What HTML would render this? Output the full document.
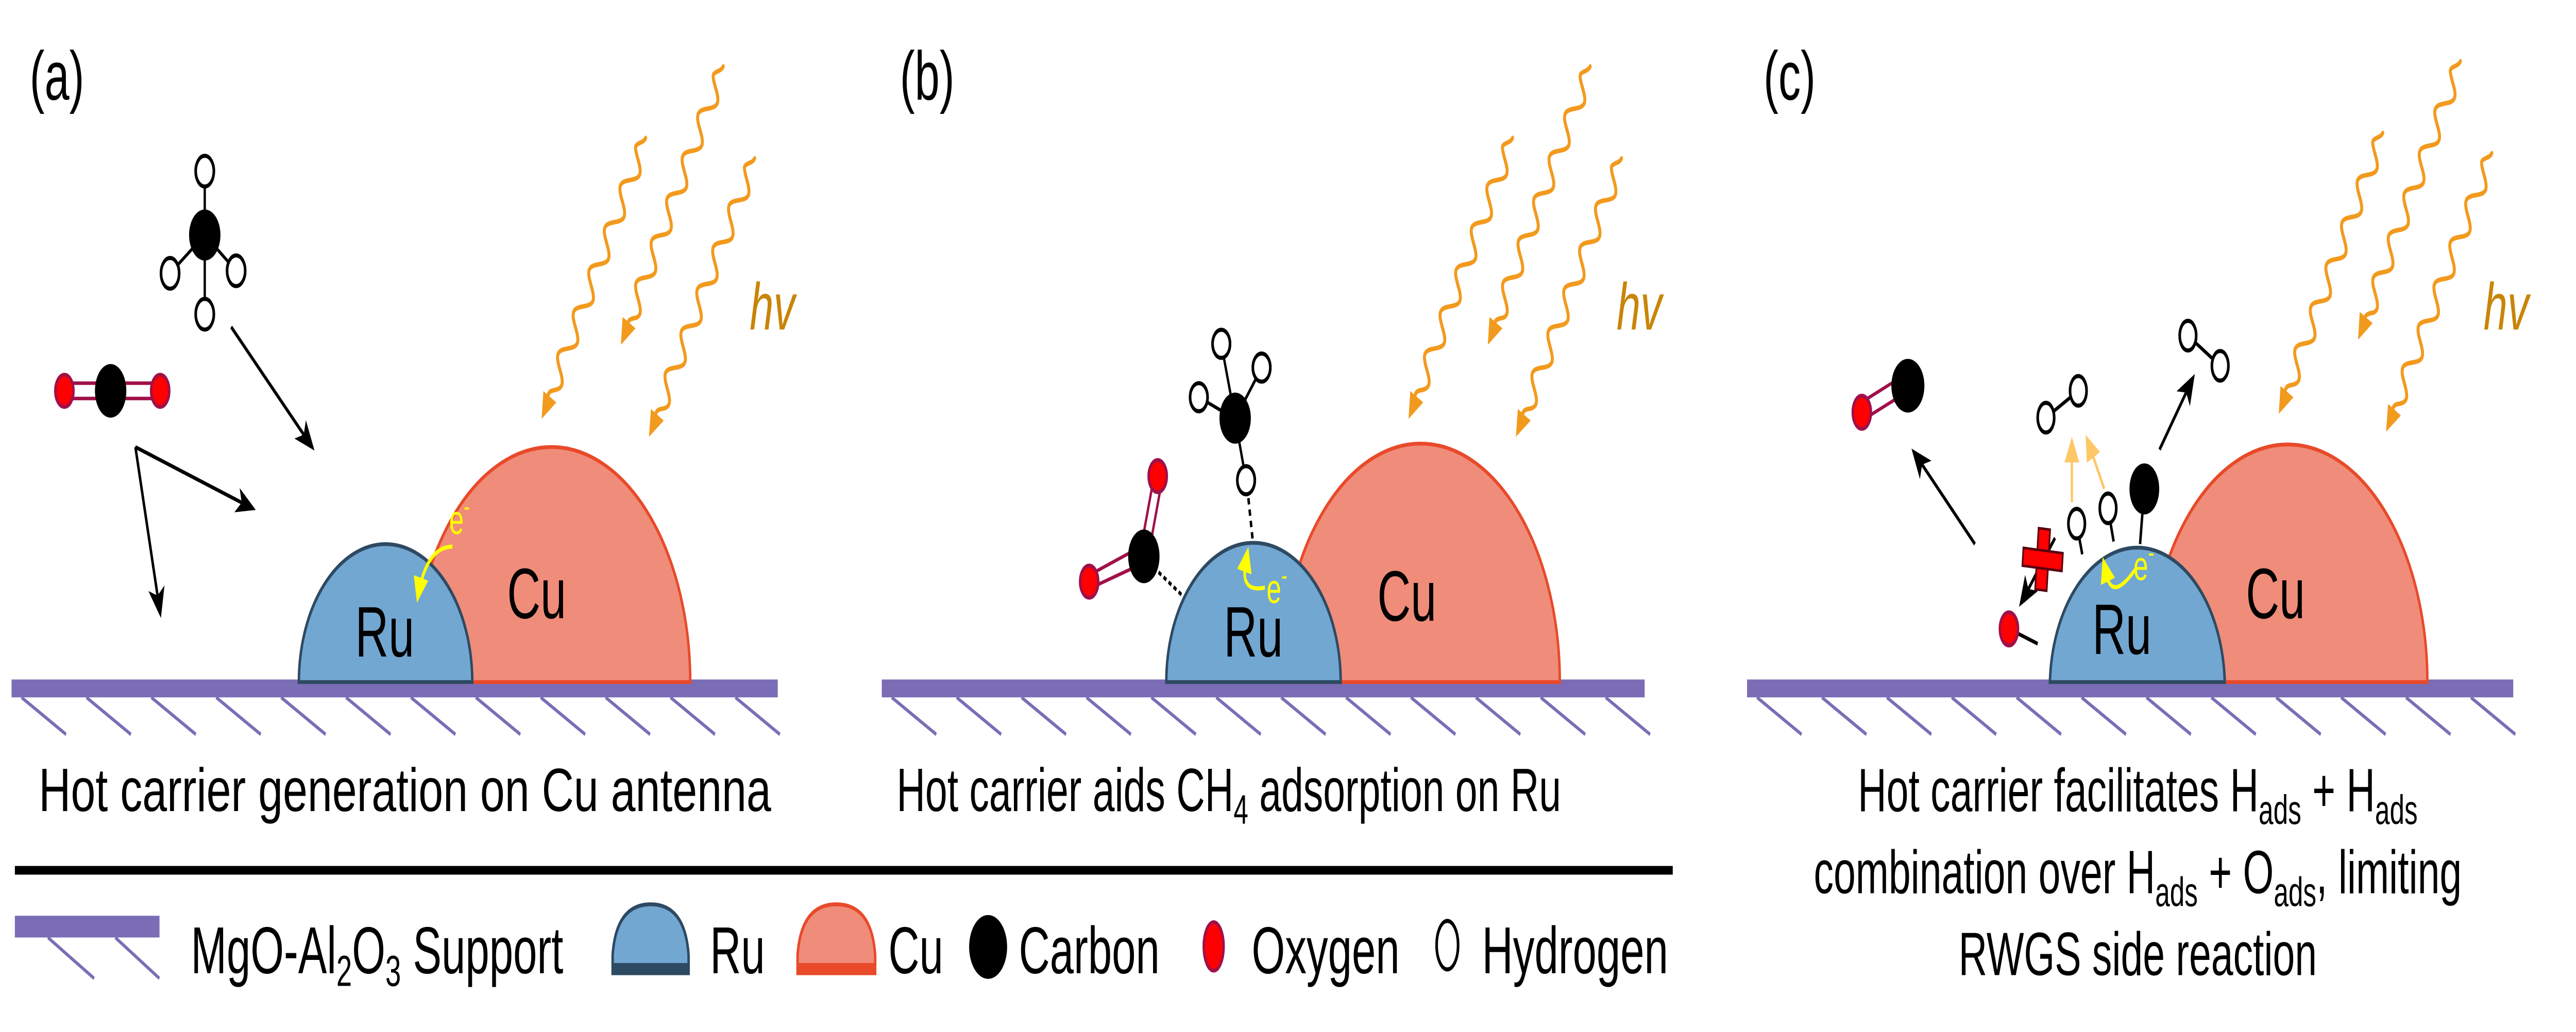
<!DOCTYPE html>
<html><head><meta charset="utf-8"><style>
html,body{margin:0;padding:0;background:#fff;width:100%;height:100%;overflow:hidden}
svg{display:block;width:100vw;height:100vh;position:fixed;left:0;top:0}
text{font-family:"Liberation Sans",sans-serif}
</style></head><body>
<svg id="s" xmlns="http://www.w3.org/2000/svg" viewBox="0 0 1560 404" preserveAspectRatio="none">
<defs>
<marker id="ab" markerUnits="userSpaceOnUse" markerWidth="12" markerHeight="10" refX="10" refY="5" orient="auto"><path d="M0,0 L12,5 L0,10 L3,5 Z" fill="#000"/></marker>
<marker id="ay" markerUnits="userSpaceOnUse" markerWidth="10" markerHeight="9" refX="8" refY="4.5" orient="auto"><path d="M0,0 L10,4.5 L0,9 Z" fill="#ffff00"/></marker>
<marker id="al" markerUnits="userSpaceOnUse" markerWidth="10" markerHeight="9" refX="8" refY="4.5" orient="auto"><path d="M0,0 L10,4.5 L0,9 Z" fill="#ffc766"/></marker>
</defs>
<g id="waves"></g>

<text x="18" y="39" font-size="27">(a)</text>
<text x="545" y="39" font-size="27">(b)</text>
<text x="1068" y="39" font-size="27">(c)</text>

<text x="454" y="129" font-size="26" font-style="italic" fill="#c98508">hv</text>
<text x="979" y="129" font-size="26" font-style="italic" fill="#c98508">hv</text>
<text x="1504" y="129" font-size="26" font-style="italic" fill="#c98508">hv</text>

<g fill="#7b6db5"><rect x="7" y="266" width="464" height="7"/><rect x="534" y="266" width="462" height="7"/><rect x="1058" y="266" width="464" height="7"/></g>
<g id="hatch" stroke="#7b6db5" stroke-width="1.4"></g>

<path d="M250,267 A84,92 0 0 1 418,267 Z" fill="#f08c7a" stroke="#e84a2a" stroke-width="1.5"/>
<path d="M181,267 A52.5,54 0 0 1 286,267 Z" fill="#72a7d2" stroke="#2e4a62" stroke-width="1.5"/>
<text x="233" y="257" font-size="28" text-anchor="middle">Ru</text>
<text x="325" y="242" font-size="28" text-anchor="middle">Cu</text>
<path d="M274,214 Q258,214 253,234" fill="none" stroke="#ffff00" stroke-width="1.6" marker-end="url(#ay)"/>
<text x="272" y="209" font-size="16" fill="#ffff00">e<tspan font-size="11" dy="-7">-</tspan></text>

<path d="M776,267 A84,93 0 0 1 944.6,267 Z" fill="#f08c7a" stroke="#e84a2a" stroke-width="1.5"/>
<path d="M706.3,267 A52.8,54.5 0 0 1 811.9,267 Z" fill="#72a7d2" stroke="#2e4a62" stroke-width="1.5"/>
<text x="759" y="257" font-size="28" text-anchor="middle">Ru</text>
<text x="852" y="243" font-size="28" text-anchor="middle">Cu</text>
<path d="M766,230 Q752,232 754,222 L755.5,216" fill="none" stroke="#ffff00" stroke-width="1.6" marker-end="url(#ay)"/>
<text x="767" y="236" font-size="16" fill="#ffff00">e<tspan font-size="11" dy="-7">-</tspan></text>

<path d="M1301,267 A84.5,93 0 0 1 1470,267 Z" fill="#f08c7a" stroke="#e84a2a" stroke-width="1.5"/>
<path d="M1241.4,267 A53,55 0 0 1 1347.3,267 Z" fill="#72a7d2" stroke="#2e4a62" stroke-width="1.5"/>
<text x="1285" y="256" font-size="28" text-anchor="middle">Ru</text>
<text x="1378" y="242" font-size="28" text-anchor="middle">Cu</text>
<path d="M1293,223 Q1280,235 1276,226 L1274,220" fill="none" stroke="#ffff00" stroke-width="1.6" marker-end="url(#ay)"/>
<text x="1292" y="227" font-size="16" fill="#ffff00">e<tspan font-size="11" dy="-7">-</tspan></text>

<g stroke="#000" stroke-width="1.4">
<line x1="124" y1="67" x2="124" y2="123"/><line x1="124" y1="92" x2="103" y2="107"/><line x1="124" y1="92" x2="143" y2="106"/>
</g>
<ellipse cx="124" cy="92" rx="9.5" ry="10" fill="#000"/>
<g fill="#fff" stroke="#000" stroke-width="1.6">
<ellipse cx="124" cy="67" rx="5.5" ry="6"/><ellipse cx="124" cy="123" rx="5.5" ry="6"/><ellipse cx="103" cy="107" rx="5.5" ry="6"/><ellipse cx="143" cy="106" rx="5.5" ry="6"/>
</g>
<g stroke="#a0104a" stroke-width="1.4"><line x1="39" y1="150" x2="97" y2="150"/><line x1="39" y1="156" x2="97" y2="156"/></g>
<ellipse cx="67" cy="153" rx="9.5" ry="10.5" fill="#000"/>
<g fill="#ff0000" stroke="#a0104a" stroke-width="1.5"><ellipse cx="39" cy="153" rx="5.5" ry="6.3"/><ellipse cx="97" cy="153" rx="5.5" ry="6.3"/></g>
<g stroke="#000" stroke-width="1.5" fill="none">
<line x1="140" y1="128" x2="189" y2="175" marker-end="url(#ab)"/>
<line x1="82" y1="175" x2="153" y2="199" marker-end="url(#ab)"/>
<line x1="82" y1="175" x2="97" y2="240" marker-end="url(#ab)"/>
</g>

<g stroke="#000" stroke-width="1.4">
<line x1="748" y1="164" x2="739.6" y2="134.6"/><line x1="748" y1="164" x2="764" y2="144"/><line x1="748" y1="164" x2="726" y2="155.5"/><line x1="748" y1="164" x2="754.6" y2="188"/>
</g>
<line x1="756" y1="195" x2="758.7" y2="212" stroke="#000" stroke-width="1.5" stroke-dasharray="2.5,2"/>
<ellipse cx="748" cy="163.7" rx="9.5" ry="10" fill="#000"/>
<g fill="#fff" stroke="#000" stroke-width="1.6">
<ellipse cx="739.6" cy="134.6" rx="5.3" ry="5.5"/><ellipse cx="764" cy="143.9" rx="5.3" ry="5.5"/><ellipse cx="726" cy="155.5" rx="5.3" ry="5.5"/><ellipse cx="754.6" cy="188" rx="5.3" ry="5.5"/>
</g>
<g stroke="#a0104a" stroke-width="1.4"><line x1="699" y1="186" x2="690" y2="218"/><line x1="704" y1="187" x2="695" y2="219"/><line x1="660" y1="225" x2="691" y2="214"/><line x1="661" y1="230" x2="694" y2="220"/></g>
<line x1="701.6" y1="224" x2="716.6" y2="233.5" stroke="#000" stroke-width="1.5" stroke-dasharray="2,1.6"/>
<ellipse cx="692.7" cy="217.8" rx="9.5" ry="10.5" fill="#000"/>
<g fill="#ff0000" stroke="#a0104a" stroke-width="1.5"><ellipse cx="701.1" cy="186.4" rx="5.5" ry="6.3"/><ellipse cx="659.6" cy="227.7" rx="5.5" ry="6.3"/></g>

<g stroke="#a0104a" stroke-width="1.4"><line x1="1126" y1="158" x2="1153" y2="147"/><line x1="1129" y1="164" x2="1156" y2="153"/></g>
<ellipse cx="1155.4" cy="151" rx="10" ry="10.5" fill="#000"/>
<ellipse cx="1127.5" cy="161.4" rx="5.5" ry="6.5" fill="#ff0000" stroke="#a0104a" stroke-width="1.5"/>
<g stroke="#000" stroke-width="1.5">
<line x1="1196" y1="213" x2="1159" y2="177" marker-end="url(#ab)"/>
<line x1="1244.5" y1="210.6" x2="1224" y2="236" marker-end="url(#ab)"/>
<line x1="1307.8" y1="176" x2="1328" y2="148" marker-end="url(#ab)"/>
<line x1="1216.6" y1="246.2" x2="1234" y2="252"/>
<line x1="1257.6" y1="205" x2="1261" y2="217"/>
<line x1="1276.6" y1="199" x2="1280" y2="212"/>
<line x1="1298.6" y1="191" x2="1296" y2="213"/>
<line x1="1239" y1="163.5" x2="1258.6" y2="153"/>
<line x1="1325" y1="131.4" x2="1344.5" y2="143.2"/>
</g>
<ellipse cx="1216.6" cy="246.2" rx="5.5" ry="6.5" fill="#ff0000" stroke="#a0104a" stroke-width="1.5"/>
<g fill="#fff" stroke="#000" stroke-width="1.6">
<ellipse cx="1257.6" cy="205" rx="5" ry="5.8"/><ellipse cx="1276.6" cy="199" rx="5" ry="5.8"/>
<ellipse cx="1239" cy="163.5" rx="5" ry="5.8"/><ellipse cx="1258.6" cy="153" rx="5" ry="5.8"/>
<ellipse cx="1325" cy="131.4" rx="5" ry="5.8"/><ellipse cx="1344.5" cy="143.2" rx="5" ry="5.8"/>
</g>
<ellipse cx="1298.6" cy="191.4" rx="9" ry="10" fill="#000"/>
<g stroke="#ffc766" stroke-width="1.4">
<line x1="1254.7" y1="196.6" x2="1254.7" y2="173" marker-end="url(#al)"/>
<line x1="1274.3" y1="191.4" x2="1264" y2="172" marker-end="url(#al)"/>
</g>
<g transform="rotate(5 1237 219)">
<rect x="1233.5" y="207" width="7" height="24" fill="#ff0000" stroke="#5a0010" stroke-width="1"/>
<rect x="1225" y="215.5" width="24" height="7" fill="#ff0000" stroke="#5a0010" stroke-width="1"/>
<rect x="1234" y="216" width="6" height="6" fill="#ff0000"/>
</g>

<text x="23.5" y="317.5" font-size="24" textLength="443.5" lengthAdjust="spacingAndGlyphs">Hot carrier generation on Cu antenna</text>
<text x="543" y="317.5" font-size="24">Hot carrier aids CH<tspan font-size="16" dy="5">4</tspan><tspan dy="-5"> adsorption on Ru</tspan></text>
<text x="1294.6" y="317.6" font-size="24" text-anchor="middle">Hot carrier facilitates H<tspan font-size="16" dy="5">ads</tspan><tspan dy="-5"> + H</tspan><tspan font-size="16" dy="5">ads</tspan></text>
<text x="1294.6" y="349.7" font-size="24" text-anchor="middle">combination over H<tspan font-size="16" dy="5">ads</tspan><tspan dy="-5"> + O</tspan><tspan font-size="16" dy="5">ads</tspan><tspan dy="-5">, limiting</tspan></text>
<text x="1294.6" y="381.7" font-size="24" text-anchor="middle">RWGS side reaction</text>

<rect x="9" y="339" width="1004" height="3.4" fill="#000"/>

<rect x="9" y="358.5" width="87.6" height="8.5" fill="#7b6db5"/>
<g stroke="#7b6db5" stroke-width="1.4"><line x1="29" y1="367" x2="57" y2="383"/><line x1="69.8" y1="367" x2="96.5" y2="383"/></g>
<text x="115.6" y="381" font-size="26">MgO-Al<tspan font-size="17" dy="5">2</tspan><tspan dy="-5">O</tspan><tspan font-size="17" dy="5">3</tspan><tspan dy="-5"> Support</tspan></text>
<path d="M371,381 L371,374 Q373,354 394,354 Q415,354 417,374 L417,381 Z" fill="#72a7d2" stroke="#2e4a62" stroke-width="1.5"/>
<rect x="371" y="377" width="46" height="4" fill="#2e4a62"/>
<text x="430" y="381" font-size="26">Ru</text>
<path d="M483,381 L483,374 Q485,354 506.5,354 Q528,354 530,374 L530,381 Z" fill="#f08c7a" stroke="#e84a2a" stroke-width="1.5"/>
<rect x="483" y="377" width="47" height="4" fill="#e84a2a"/>
<text x="538" y="381" font-size="26">Cu</text>
<ellipse cx="598.4" cy="370.7" rx="11.5" ry="12.5" fill="#000"/>
<text x="617" y="381" font-size="26">Carbon</text>
<ellipse cx="735" cy="370.5" rx="6" ry="9.5" fill="#ff0000" stroke="#a0104a" stroke-width="1.5"/>
<text x="758" y="381" font-size="26">Oxygen</text>
<ellipse cx="876.5" cy="370" rx="6.5" ry="9.5" fill="#fff" stroke="#000" stroke-width="1.6"/>
<text x="897.5" y="381" font-size="26">Hydrogen</text>
</svg>
<script>
(function(){
var NS="http://www.w3.org/2000/svg";
var g=document.getElementById("waves");
var base=[[391,54,328,164],[438,26,376,135],[457,62,393,171]];
var offs=[[0,0],[525,0],[1052,-2]];
offs.forEach(function(o){
 base.forEach(function(b){
  var x1=b[0]+o[0],y1=b[1]+o[1],x2=b[2]+o[0],y2=b[3]+o[1];
  var dx=x2-x1,dy=y2-y1,L=Math.sqrt(dx*dx+dy*dy),ux=dx/L,uy=dy/L,px=-uy,py=ux;
  var d="",lam=19,A=4,end=L-9;
  for(var s=0;s<=end;s+=0.7){
   var taper=Math.min(1,s/6,(end-s)/6+0.2);
   var w=A*Math.sin(2*Math.PI*s/lam)*taper;
   var x=x1+ux*s+px*w,y=y1+uy*s+py*w;
   d+=(s===0?"M":"L")+x.toFixed(2)+","+y.toFixed(2);
  }
  var p=document.createElementNS(NS,"path");
  p.setAttribute("d",d);p.setAttribute("fill","none");p.setAttribute("stroke","#f29a1e");
  p.setAttribute("stroke-width","1.8");p.setAttribute("stroke-linecap","round");
  g.appendChild(p);
  var bx=x2-ux*10,by=y2-uy*10;
  var t=document.createElementNS(NS,"path");
  t.setAttribute("d","M"+x2+","+y2+"L"+(bx+px*4.5)+","+(by+py*4.5)+"L"+(bx-px*4.5)+","+(by-py*4.5)+"Z");
  t.setAttribute("fill","#f29a1e");
  g.appendChild(t);
 });
});
var h=document.getElementById("hatch");
[7,534,1058].forEach(function(x0){
 for(var i=0;i<12;i++){
  var x=x0+6+i*39.3;
  var l=document.createElementNS(NS,"line");
  l.setAttribute("x1",x);l.setAttribute("y1",273);l.setAttribute("x2",x+27);l.setAttribute("y2",287.5);
  h.appendChild(l);
 }
});
})();
</script>
</body></html>
